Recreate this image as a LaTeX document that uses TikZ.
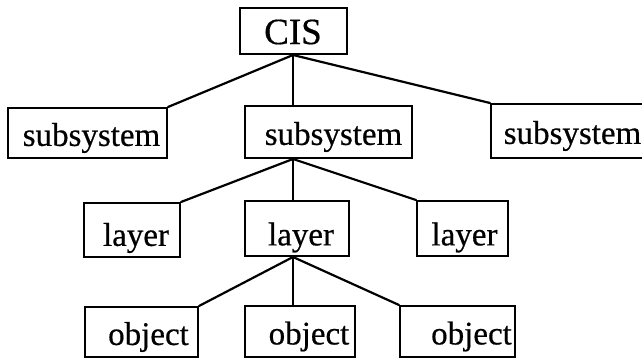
\documentclass[tikz,border=0pt]{standalone}
\usepackage{fontspec}
\setmainfont{Liberation Serif}
\newfontfamily\inkfont{Liberation Serif}[FakeBold=0.5]
\usetikzlibrary{calc}
\tikzset{
  box/.style={draw, line width=2pt, rectangle, inner sep=0pt},
  lbl/.style={inner sep=0pt, font=\inkfont\fontsize{33}{33}\selectfont},
  link/.style={line width=2.2pt, line cap=round},
}
\begin{document}
\begin{tikzpicture}[x=1pt, y=-1pt]
\useasboundingbox (0,0) rectangle (642,358);
% boxes: centre, width, height
\node[box, minimum width=107pt, minimum height=46pt] (cis) at (293,31) {};
\node[box, minimum width=159pt, minimum height=50pt] (s1) at (87.5,133) {};
\node[box, minimum width=167pt, minimum height=52pt] (s2) at (328.5,132) {};
\node[box, minimum width=165pt, minimum height=54pt] (s3) at (573.5,131) {};
\node[box, minimum width=96pt, minimum height=54pt] (l1) at (132,230) {};
\node[box, minimum width=104pt, minimum height=55pt] (l2) at (297,228.5) {};
\node[box, minimum width=91pt, minimum height=55pt] (l3) at (462.5,228.5) {};
\node[box, minimum width=113pt, minimum height=50pt] (o1) at (141.5,332) {};
\node[box, minimum width=110pt, minimum height=51pt] (o2) at (300,331.5) {};
\node[box, minimum width=115pt, minimum height=51pt] (o3) at (457.5,331.5) {};
% labels
\node[lbl, font=\inkfont\fontsize{37}{37}\selectfont] (tcis) at ($(cis.center)+(0,1)$) {CIS};
\node[lbl] (ts1) at ($(s1.center)+(4,5)$) {subsystem};
\node[lbl] (ts2) at ($(s2.center)+(5,5)$) {subsystem};
\node[lbl] (ts3) at ($(s3.center)+(-1,5)$) {subsystem};
\node[lbl] (tl1) at ($(l1.center)+(4,8)$) {layer};
\node[lbl] (tl2) at ($(l2.center)+(4,9)$) {layer};
\node[lbl] (tl3) at ($(l3.center)+(2,9)$) {layer};
\node[lbl] (to1) at ($(o1.center)+(7,5)$) {object};
\node[lbl] (to2) at ($(o2.center)+(9,5)$) {object};
\node[lbl] (to3) at ($(o3.center)+(14,5)$) {object};
% connectors
\draw[link] (cis.south) -- (s1.north east);
\draw[link] (cis.south) -- (s2.north -| cis.south);
\draw[link] (cis.south) -- (s3.north west);
\draw[link] (s2.south -| cis.south) -- (l1.north east);
\draw[link] (s2.south -| cis.south) -- (l2.north -| cis.south);
\draw[link] (s2.south -| cis.south) -- (l3.north west);
\draw[link] (l2.south -| cis.south) coordinate (lb) -- (o1.north east);
\draw[link] (lb) -- (o2.north -| lb);
\draw[link] (lb) -- (o3.north west);
\end{tikzpicture}
\end{document}
